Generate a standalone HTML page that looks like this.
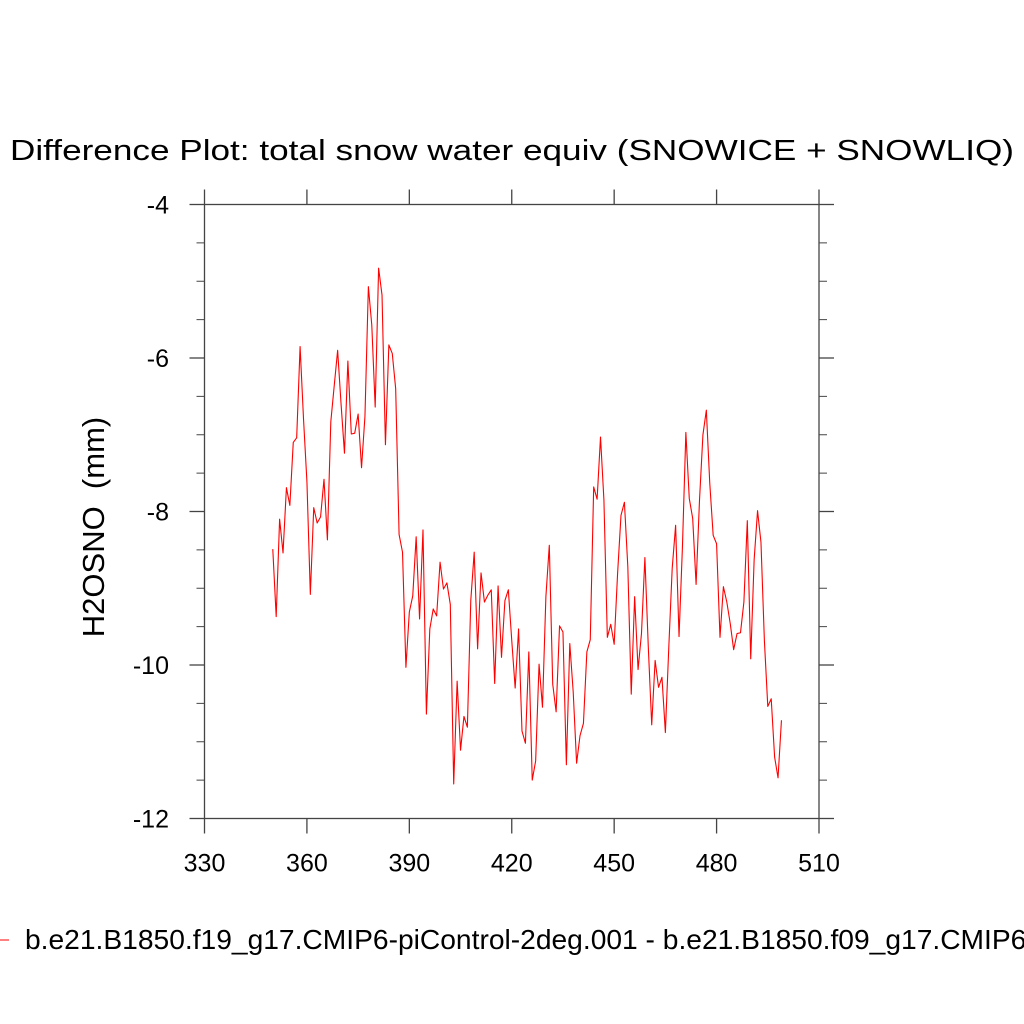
<!DOCTYPE html>
<html><head><meta charset="utf-8"><style>
html,body{margin:0;padding:0;background:#fff;}
svg{display:block;font-family:"Liberation Sans",sans-serif;}
</style></head><body>
<svg id="chart" width="1024" height="1024" viewBox="0 0 1024 1024">
<rect width="1024" height="1024" fill="#fff"/>
<text x="512" y="160" text-anchor="middle" font-size="29" textLength="1004" lengthAdjust="spacingAndGlyphs">Difference Plot: total snow water equiv (SNOWICE + SNOWLIQ)</text>
<text transform="translate(104,527) rotate(-90)" text-anchor="middle" font-size="31" style="white-space:pre" xml:space="preserve">H2OSNO  (mm)</text>
<g id="axes"></g>
<g id="series"></g>
<g>
<line x1="0" y1="940" x2="9" y2="940" stroke="#f00" stroke-width="1"/>
<text x="25" y="949" font-size="28.2">b.e21.B1850.f19_g17.CMIP6-piControl-2deg.001 - b.e21.B1850.f09_g17.CMIP6-piControl.001</text>
</g>
</svg>
<script>
const startYear = 350;
const seriesValues = [
-8.49,-9.37,-8.10,-8.54,-7.69,-7.92,-7.10,-7.04,-5.85,-6.79,
-7.61,-9.08,-7.95,-8.15,-8.07,-7.58,-8.37,-6.83,-6.36,-5.90,
-6.60,-7.24,-6.04,-6.99,-6.98,-6.73,-7.43,-6.76,-5.07,-5.57,
-6.64,-4.83,-5.18,-7.13,-5.83,-5.94,-6.40,-8.30,-8.53,-10.03,
-9.31,-9.10,-8.33,-9.40,-8.24,-10.64,-9.53,-9.27,-9.36,-8.66,
-9.01,-8.93,-9.21,-11.55,-10.21,
-11.11,-10.67,-10.81,-9.16,-8.53,-9.79,-8.80,-9.18,-9.09,-9.02,
-10.24,-8.97,-9.90,-9.16,-9.02,-9.68,-10.30,-9.53,-10.86,-11.02,
-9.83,-11.50,-11.25,-9.99,-10.55,-9.11,-8.44,-10.25,-10.61,-9.49,
-9.57,-11.30,-9.72,-10.35,-11.28,-10.92,-10.76,-9.83,-9.67,-7.68,
-7.84,-7.03,-7.85,-9.64,-9.47,-9.73,-8.81,-8.05,-7.88,-8.72,
-10.38,-9.11,-10.06,
-9.59,-8.60,-9.77,-10.78,-9.94,-10.29,-10.16,-10.88,-9.77,-8.74,
-8.18,-9.63,-8.46,-6.97,-7.83,-8.09,-8.95,-7.85,-7.00,-6.68,
-7.63,-8.31,-8.42,-9.64,-8.98,-9.18,-9.46,-9.80,-9.59,-9.58,
-9.18,-8.12,-9.92,-8.63,-7.99,-8.40,-9.68,-10.54,-10.44,-11.20,
-11.47,-10.72
];
const xTicks = [330,360,390,420,450,480,510];
const yTicks = [-4,-6,-8,-10,-12];
const yMinorTicks = [-4.5,-5,-5.5,-6.5,-7,-7.5,-8.5,-9,-9.5,-10.5,-11,-11.5];

const L=204.5,R=819,T=204.5,B=818.5;
const xMin=330,xMax=510,yMin=-12,yMax=-4;
const sx=v=>L+(v-xMin)/(xMax-xMin)*(R-L);
const sy=v=>B-(v-yMin)/(yMax-yMin)*(B-T);
const NS="http://www.w3.org/2000/svg";
function mk(tag,attrs,parent){const e=document.createElementNS(NS,tag);for(const k in attrs)e.setAttribute(k,attrs[k]);parent.appendChild(e);return e;}
const axes=document.getElementById('axes');
const frame=mk('rect',{x:L,y:T,width:R-L,height:B-T,fill:'none',stroke:'#444','stroke-width':1.3},axes);


xTicks.forEach(v=>{
  const x=sx(v);
  const t1=mk('line',{x1:x,y1:B,x2:x,y2:B+15,stroke:'#444','stroke-width':1.3},axes);
  
  
  const t2=mk('line',{x1:x,y1:T,x2:x,y2:T-15,stroke:'#444','stroke-width':1.3},axes);
  
  
  const lb=mk('text',{x:x,y:B+53,'text-anchor':'middle','font-size':25},axes);
  lb.textContent=v;
  
  
});
yTicks.forEach(v=>{
  const y=sy(v);
  const t1=mk('line',{x1:L-15,y1:y,x2:L,y2:y,stroke:'#444','stroke-width':1.3},axes);
  
  
  const t2=mk('line',{x1:R,y1:y,x2:R+15,y2:y,stroke:'#444','stroke-width':1.3},axes);
  
  
  const lb=mk('text',{x:169,y:y+9,'text-anchor':'end','font-size':25},axes);
  lb.textContent=v;
  
  
});
yMinorTicks.forEach(v=>{
  const y=sy(v);
  const t1=mk('line',{x1:L-8,y1:y,x2:L,y2:y,stroke:'#444','stroke-width':1},axes);
  
  
  const t2=mk('line',{x1:R,y1:y,x2:R+8,y2:y,stroke:'#444','stroke-width':1},axes);
  
  
});
const pts=seriesValues.map((v,i)=>sx(startYear+i).toFixed(2)+','+sy(v).toFixed(2)).join(' ');
const line=mk('polyline',{points:pts,fill:'none',stroke:'#f00','stroke-width':1.1,'stroke-linejoin':'round'},document.getElementById('series'));


</script>
</body></html>
